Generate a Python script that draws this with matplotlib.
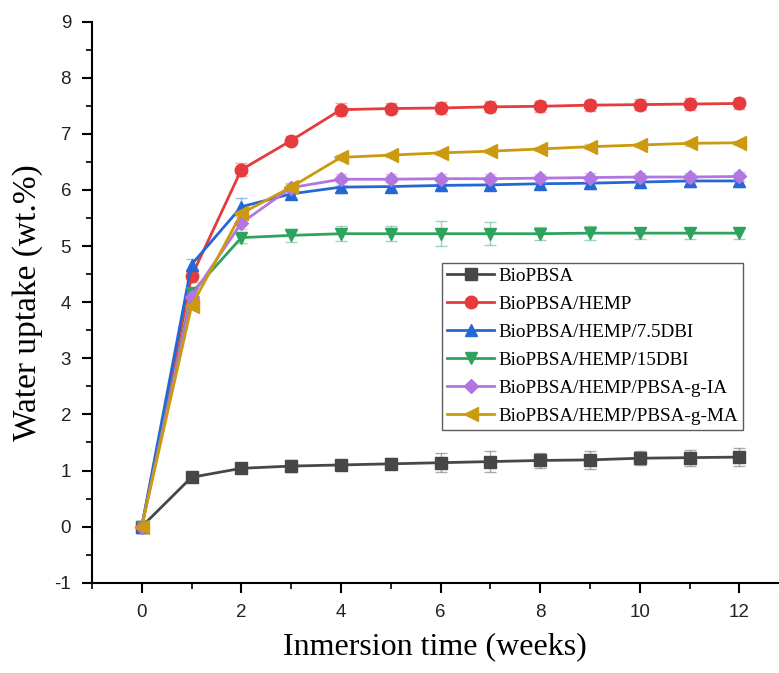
import numpy as np
import matplotlib
matplotlib.use("Agg")
import matplotlib.pyplot as plt
from matplotlib.ticker import MultipleLocator

plt.rcParams["axes.unicode_minus"] = False

# immersion time (weeks)
weeks = [0, 1, 2, 3, 4, 5, 6, 7, 8, 9, 10, 11, 12]

labels = ["BioPBSA", "BioPBSA/HEMP", "BioPBSA/HEMP/7.5DBI", "BioPBSA/HEMP/15DBI",
          "BioPBSA/HEMP/PBSA-g-IA", "BioPBSA/HEMP/PBSA-g-MA"]

biopbsa = [0, 0.88, 1.04, 1.08, 1.10, 1.12, 1.14, 1.16, 1.18, 1.19, 1.22, 1.23, 1.24]
hemp = [0, 4.46, 6.36, 6.88, 7.43, 7.45, 7.46, 7.48, 7.49, 7.51, 7.52, 7.53, 7.54]
dbi75 = [0, 4.67, 5.70, 5.93, 6.05, 6.06, 6.08, 6.09, 6.11, 6.12, 6.14, 6.16, 6.16]
dbi15 = [0, 4.16, 5.15, 5.19, 5.22, 5.22, 5.22, 5.22, 5.22, 5.23, 5.23, 5.23, 5.23]
g_ia = [0, 4.10, 5.41, 6.04, 6.19, 6.19, 6.20, 6.20, 6.21, 6.22, 6.23, 6.23, 6.24]
g_ma = [0, 3.93, 5.58, 6.05, 6.58, 6.62, 6.66, 6.69, 6.73, 6.77, 6.80, 6.83, 6.84]

biopbsa_err = [0, 0.04, 0.07, 0.10, 0.08, 0.10, 0.17, 0.18, 0.14, 0.16, 0.12, 0.14, 0.16]
hemp_err = [0, 0.10, 0.12, 0.08, 0.12, 0.10, 0.10, 0.10, 0.10, 0.10, 0.10, 0.10, 0.10]
dbi75_err = [0, 0.10, 0.15, 0.10, 0.10, 0.08, 0.10, 0.09, 0.10, 0.10, 0.10, 0.10, 0.10]
dbi15_err = [0, 0.08, 0.10, 0.12, 0.13, 0.13, 0.22, 0.20, 0.12, 0.12, 0.10, 0.10, 0.10]
g_ia_err = [0, 0.08, 0.10, 0.08, 0.10, 0.10, 0.08, 0.08, 0.08, 0.08, 0.08, 0.08, 0.08]
g_ma_err = [0, 0.05, 0.05, 0.05, 0.04, 0.04, 0.04, 0.04, 0.04, 0.04, 0.04, 0.04, 0.04]

series = [biopbsa, hemp, dbi75, dbi15, g_ia, g_ma]
errors = [biopbsa_err, hemp_err, dbi75_err, dbi15_err, g_ia_err, g_ma_err]
colors = ["#474747", "#e63a3c", "#2468d4", "#2fa35e", "#b276e0", "#cc9a0e"]
markers = ["s", "o", "^", "v", "D", "<"]
msizes = [8, 9, 9, 9, 7.5, 9.5]

fig = plt.figure(figsize=(7.79, 6.73), dpi=100)
ax = fig.add_axes([0.118, 0.134, 0.881, 0.834])

for y, e, c, m, ms, lab in zip(series, errors, colors, markers, msizes, labels):
    ax.errorbar(weeks, y, yerr=e, fmt="none", ecolor=c, alpha=0.45,
                elinewidth=1.0, capsize=4, capthick=1.0)
    ax.plot(weeks, y, color=c, marker=m, markersize=ms, linewidth=2.0,
            label=lab)

ax.set_xlim(-1.0, 12.78)
ax.set_ylim(-1, 9)
ax.xaxis.set_major_locator(MultipleLocator(2))
ax.xaxis.set_minor_locator(MultipleLocator(1))
ax.yaxis.set_major_locator(MultipleLocator(1))
ax.yaxis.set_minor_locator(MultipleLocator(0.5))

ax.spines["top"].set_visible(False)
ax.spines["right"].set_visible(False)
for s in ["left", "bottom"]:
    ax.spines[s].set_linewidth(1.5)

ax.tick_params(which="major", direction="out", length=7, width=1.5,
               labelsize=13.5, pad=8)
ax.tick_params(which="minor", direction="out", length=4, width=1.2)
for t in ax.get_xticklabels() + ax.get_yticklabels():
    t.set_fontfamily("Liberation Sans")
    t.set_color("#222222")

ax.set_xlabel("Inmersion time (weeks)", fontsize=23, family="Liberation Serif",
              labelpad=8)
ax.set_ylabel("Water uptake (wt.%)", fontsize=24, family="Liberation Serif",
              labelpad=8)

leg = ax.legend(loc="lower right", bbox_to_anchor=(0.949, 0.273),
                prop={"family": "Liberation Serif", "size": 13.8},
                frameon=True, fancybox=False, edgecolor="#333333",
                handlelength=2.45, labelspacing=0.55, borderpad=0.25,
                handletextpad=0.25, borderaxespad=0)
leg.get_frame().set_linewidth(1.0)

fig.savefig("out.png", dpi=100)
